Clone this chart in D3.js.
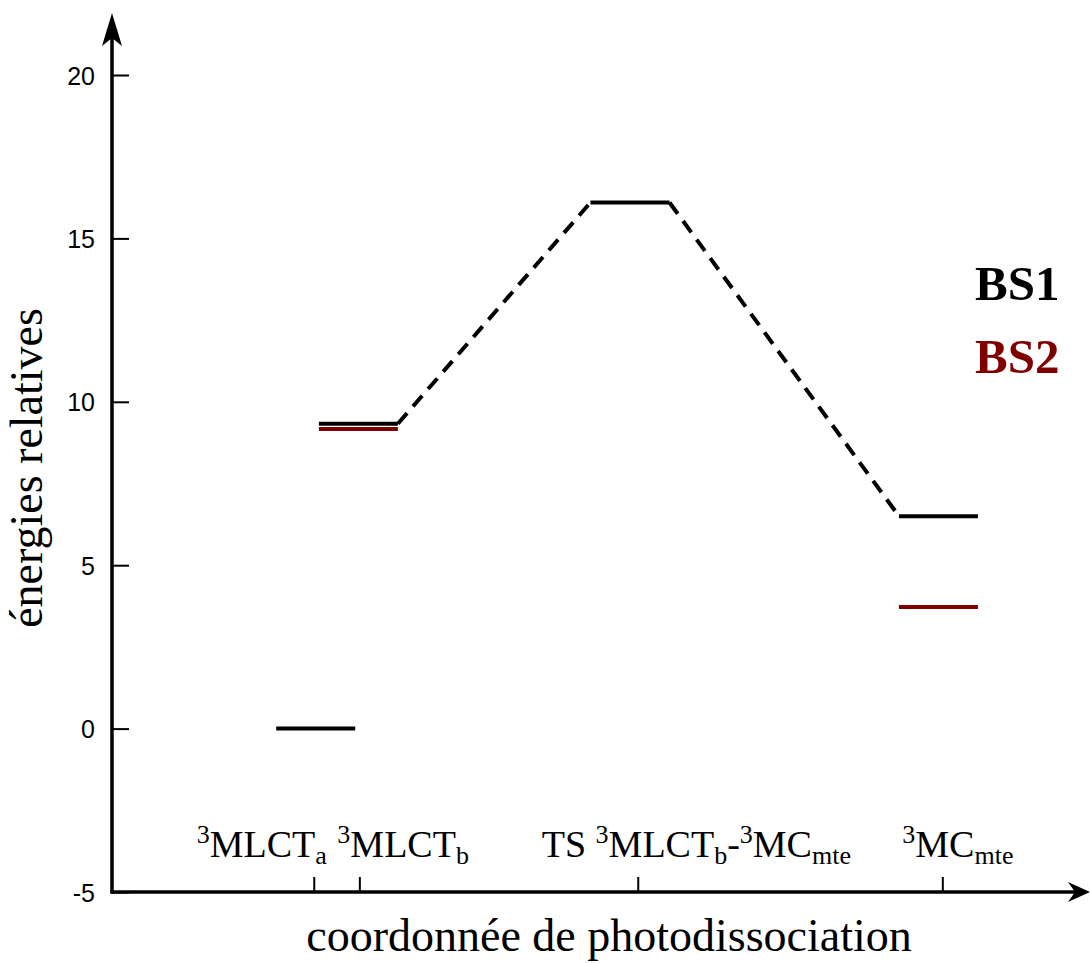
<!DOCTYPE html>
<html><head><meta charset="utf-8">
<script src="https://cdn.jsdelivr.net/npm/d3@7/dist/d3.min.js"></script>
<style>html,body{margin:0;padding:0;background:#fff;}svg{display:block;}</style>
</head><body>
<svg id="chart" width="1090" height="963"></svg>
<script>
// ---- data ----
const states = ["3MLCTa", "3MLCTb", "TS 3MLCTb-3MCmte", "3MCmte"];
const stateLabelParts = [
  [["3","sup"],["MLCT",""],["a","sub"]],
  [["3","sup"],["MLCT",""],["b","sub"]],
  [["TS ",""],["3","sup"],["MLCT",""],["b","sub"],["-",""],["3","sup"],["MC",""],["mte","sub"]],
  [["3","sup"],["MC",""],["mte","sub"]]
];
const tickCoord  = [2.08, 2.55, 5.42, 8.56];   // reaction coordinate of category ticks
const levelCoord = [2.10, 2.54, 5.34, 8.52];   // reaction coordinate of level centres
const bs1 = [0, 9.33, 16.1, 6.5];
const bs2 = [null, 9.17, null, 3.72];
const yTicks = [-5, 0, 5, 10, 15, 20];
const seriesNames = ["BS1", "BS2"];
const seriesColors = ["#000000", "#800000"];
const dashedLinks = [[1, 2], [2, 3]]; // BS1 connections (from state, to state)

// ---- layout ----
const svg = d3.select("#chart");
const x = d3.scaleLinear().domain([0, 10]).range([112, 1082]);
const y = d3.scaleLinear().domain([-5, 20]).range([892, 75]);
const halfW = 39.5;
const serif = "'Liberation Serif', 'Times New Roman', serif";
const labelLayout = [
  {anchor: "end", dx: 13},
  {anchor: "start", dx: -22},
  {anchor: "start", dx: -96},
  {anchor: "start", dx: -40}
];

// y axis
const yAxis = d3.axisLeft(y).tickValues(yTicks).tickSize(-17).tickPadding(17).tickFormat(d => String(d));
const gy = svg.append("g").attr("transform", "translate(112,0)").call(yAxis);
gy.select(".domain").remove();
gy.selectAll(".tick line").attr("stroke", "#000").attr("stroke-width", 2);
gy.selectAll(".tick text").attr("font-family", "'Liberation Sans', Arial, sans-serif").attr("font-size", 25).attr("fill", "#000").attr("dy", "0.36em");

// x axis ticks (upwards)
const xAxis = d3.axisTop(x).tickValues(tickCoord).tickSize(15).tickFormat("");
const gx = svg.append("g").attr("transform", "translate(0,892)").call(xAxis);
gx.select(".domain").remove();
gx.selectAll(".tick line").attr("stroke", "#000").attr("stroke-width", 2);

// axis lines with arrows
svg.append("line").attr("x1", 112).attr("y1", 893.5).attr("x2", 112).attr("y2", 30).attr("stroke", "#000").attr("stroke-width", 3.5);
svg.append("line").attr("x1", 110.5).attr("y1", 892).attr("x2", 1075).attr("y2", 892).attr("stroke", "#000").attr("stroke-width", 3.5);
svg.append("path").attr("d", "M112,13 L122,46 L112,38 L102,46 Z").attr("fill", "#000");
svg.append("path").attr("d", "M1090,892 L1068,882 L1075,892 L1068,902 Z").attr("fill", "#000");

// dashed connectors
dashedLinks.forEach(([a, b]) => {
  svg.append("line")
    .attr("x1", x(levelCoord[a]) + halfW).attr("y1", y(bs1[a]))
    .attr("x2", x(levelCoord[b]) - halfW).attr("y2", y(bs1[b]))
    .attr("stroke", "#000").attr("stroke-width", 4)
    .attr("stroke-dasharray", "14,9");
});

// energy levels
[bs1, bs2].forEach((series, si) => {
  svg.append("g").selectAll("line")
    .data(series.map((v, i) => ({v, i})).filter(d => d.v !== null))
    .join("line")
    .attr("x1", d => x(levelCoord[d.i]) - halfW)
    .attr("x2", d => x(levelCoord[d.i]) + halfW)
    .attr("y1", d => y(d.v)).attr("y2", d => y(d.v))
    .attr("stroke", seriesColors[si]).attr("stroke-width", 4);
});

// category labels
stateLabelParts.forEach((parts, i) => {
  const L = labelLayout[i];
  const t = svg.append("text")
    .attr("x", x(tickCoord[i]) + L.dx).attr("y", 857)
    .attr("text-anchor", L.anchor)
    .attr("font-family", serif)
    .attr("font-size", 38).attr("fill", "#000");
  let cur = 0;
  parts.forEach(([s, kind]) => {
    const target = kind === "sup" ? -14 : kind === "sub" ? 7 : 0;
    t.append("tspan").attr("dy", target - cur)
      .attr("font-size", kind ? 26 : 38).text(s);
    cur = target;
  });
});

// legend
seriesNames.forEach((n, i) => {
  svg.append("text").attr("x", 975).attr("y", 300 + i * 73)
    .attr("font-family", serif)
    .attr("font-weight", "bold").attr("font-size", 49)
    .attr("fill", seriesColors[i]).text(n);
});

// axis titles
svg.append("text").attr("transform", "translate(42,468) rotate(-90)")
  .attr("text-anchor", "middle")
  .attr("font-family", serif)
  .attr("font-size", 46).attr("fill", "#000").text("énergies relatives");
svg.append("text").attr("x", 609).attr("y", 951)
  .attr("text-anchor", "middle")
  .attr("font-family", serif)
  .attr("font-size", 46).attr("fill", "#000").text("coordonnée de photodissociation");
</script>
</body></html>
